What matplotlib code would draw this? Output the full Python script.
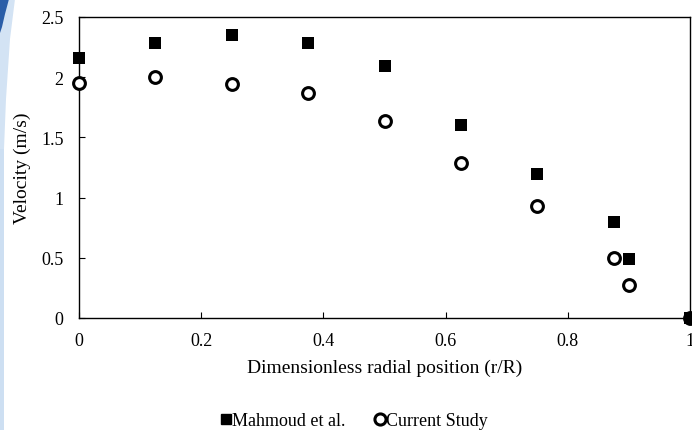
import matplotlib
matplotlib.use("Agg")
import matplotlib.pyplot as plt
from matplotlib.patches import Polygon, Rectangle
from matplotlib.lines import Line2D

# Radial positions and velocities
r_pos = [0.0, 0.125, 0.25, 0.375, 0.5, 0.625, 0.75, 0.875, 0.9, 1.0]
vel_mahmoud = [2.16, 2.28, 2.35, 2.28, 2.09, 1.60, 1.20, 0.80, 0.49, 0.0]
vel_current = [1.95, 2.00, 1.94, 1.87, 1.64, 1.29, 0.93, 0.50, 0.27, 0.0]

x_ticks = [0, 0.2, 0.4, 0.6, 0.8, 1]
x_ticklabels = ["0", "0.2", "0.4", "0.6", "0.8", "1"]
y_ticks = [0, 0.5, 1, 1.5, 2, 2.5]
y_ticklabels = ["0", "0.5", "1", "1.5", "2", "2.5"]

plt.rcParams["font.family"] = ["Liberation Serif", "DejaVu Serif"]

fig = plt.figure(figsize=(6.92, 4.31), dpi=100)
fig.patch.set_facecolor("white")

# Decorative blue band along the left edge
W, H = 692, 431
def px(x, y):
    return (x / W, 1 - y / H)
fig.patches.append(Rectangle(px(0, H), 4 / W, 1, transform=fig.transFigure,
                             facecolor="#cddff2", edgecolor="none", zorder=0))
fig.patches.append(Polygon([px(0, 0), px(15, 0), px(10, 40), px(6, 100), px(4, 150), px(0, 150)],
                           closed=True, transform=fig.transFigure,
                           facecolor="#d3e3f4", edgecolor="none", zorder=0))
fig.patches.append(Polygon([px(0, 0), px(9, 0), px(5, 15), px(2, 28), px(0, 34)],
                           closed=True, transform=fig.transFigure,
                           facecolor="#2a5ea8", edgecolor="none", zorder=0))

ax = fig.add_axes([79 / W, 1 - 319 / H, (690 - 79) / W, (319 - 18) / H])
ax.scatter(r_pos, vel_current, marker="o", s=72, facecolor="white", edgecolor="black",
           linewidths=2.2, clip_on=False, zorder=3)
ax.scatter(r_pos, vel_mahmoud, marker="s", s=68, color="black", clip_on=False, zorder=4,
           linewidths=0)

ax.set_xlim(0, 1)
ax.set_ylim(0, 2.5)
ax.set_xticks(x_ticks)
ax.set_xticklabels(x_ticklabels)
ax.set_yticks(y_ticks)
ax.set_yticklabels(y_ticklabels)
ax.tick_params(direction="in", length=4, width=0.8, labelsize=13, colors="black")
ax.tick_params(axis="x", pad=10)
ax.tick_params(axis="y", pad=11)
for s in ax.spines.values():
    s.set_linewidth(1.0)
    s.set_color("black")

ax.set_xlabel("Dimensionless radial position (r/R)", fontsize=14)
ax.xaxis.set_label_coords(0.5, (319 - 368) / 301)
ax.xaxis.label.set_va("center")
ax.set_ylabel("Velocity (m/s)", fontsize=14)
ax.yaxis.set_label_coords((22 - 79) / 611, 0.5)
ax.yaxis.label.set_va("center")

handles = [
    Line2D([], [], marker="s", linestyle="none", color="black", markersize=7.8),
    Line2D([], [], marker="o", linestyle="none", markerfacecolor="white",
           markeredgecolor="black", markeredgewidth=2.2, markersize=8),
]
fig.legend(handles, ["Mahmoud et al.", "Current Study"], loc="center",
           bbox_to_anchor=(354 / W, 1 - 422 / H), ncol=2, frameon=False,
           fontsize=13, handlelength=0.6, handletextpad=0.05, columnspacing=1.6,
           borderpad=0, borderaxespad=0)

fig.savefig("out.png", dpi=100, facecolor="white")
